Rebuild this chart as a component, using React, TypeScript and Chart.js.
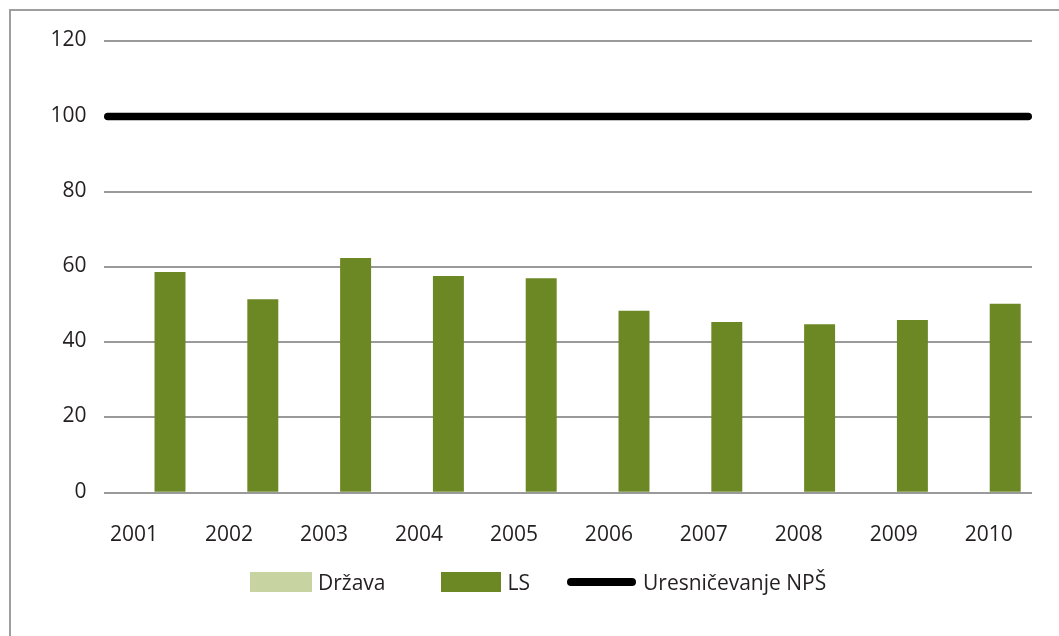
import React, { useEffect, useRef } from "react";
import { Chart, registerables } from "chart.js";

Chart.register(...registerables);

const years = ["2001", "2002", "2003", "2004", "2005", "2006", "2007", "2008", "2009", "2010"];
const drzavaValues = [0, 0, 0, 0, 0, 0, 0, 0, 0, 0];
const lsValues = [58.7, 51.4, 62.4, 57.6, 57.0, 48.4, 45.4, 44.8, 45.9, 50.2];
const npsValues = [100, 100, 100, 100, 100, 100, 100, 100, 100, 100];
const seriesNames = ["Država", "LS", "Uresničevanje NPŠ"];
const yTicks = [0, 20, 40, 60, 80, 100, 120];

const FONT = "'Open Sans', sans-serif";
const TEXT = "#231F20";
const C_DRZAVA = "#C8D3A2";
const C_LS = "#6B8825";
const C_LINE = "#000000";

export default function App() {
  const ref = useRef<HTMLCanvasElement | null>(null);

  useEffect(() => {
    if (!ref.current) return;
    const chart = new Chart(ref.current, {
      type: "bar",
      data: {
        labels: years,
        datasets: [
          {
            type: "line",
            label: seriesNames[2],
            data: npsValues.map((v, i) => ({ x: i, y: v })),
            xAxisID: "x2",
            borderColor: C_LINE,
            borderWidth: 7.5,
            borderCapStyle: "round",
            pointRadius: 0,
            order: 0,
          } as any,
          {
            label: seriesNames[0],
            data: drzavaValues,
            backgroundColor: C_DRZAVA,
            borderWidth: 0,
            categoryPercentage: 1.69,
            barPercentage: 0.79,
            order: 1,
          },
          {
            label: seriesNames[1],
            data: lsValues,
            backgroundColor: C_LS,
            borderWidth: 0,
            categoryPercentage: 1.69,
            barPercentage: 0.79,
            order: 1,
          },
        ],
      },
      options: {
        responsive: false,
        animation: false,
        layout: { padding: { left: 0, right: 27, top: 41.3, bottom: 83.3 } },
        plugins: { legend: { display: false }, tooltip: { enabled: false } },
        scales: {
          x: {
            type: "category",
            offset: true,
            display: false,
          },
          x2: {
            type: "linear",
            offset: false,
            min: -0.037,
            max: years.length - 1 + 0.037,
            display: false,
          },
          xl: {
            type: "linear",
            position: "bottom",
            offset: false,
            min: -0.316,
            max: 9.455,
            afterBuildTicks: (s: any) => {
              s.ticks = years.map((_, i) => ({ value: i }));
            },
            grid: { display: false },
            border: { display: false },
            ticks: {
              color: TEXT,
              font: { family: FONT, size: 21 },
              padding: 22,
              maxRotation: 0,
              autoSkip: false,
              callback: (v: any) => years[Math.round(Number(v))] ?? "",
            },
            afterFit: (s: any) => {
              s.height = 60;
            },
          },
          y: {
            min: yTicks[0],
            max: yTicks[yTicks.length - 1],
            afterBuildTicks: (s: any) => {
              s.ticks = yTicks.map((v) => ({ value: v }));
            },
            grid: { color: "#9A9A9A", lineWidth: 2, drawTicks: false },
            border: { display: false },
            ticks: {
              color: TEXT,
              font: { family: FONT, size: 21 },
              padding: 17.5,
              labelOffset: -1,
            },
            afterFit: (s: any) => {
              s.width = 104;
            },
          },
        },
      },
    });
    return () => chart.destroy();
  }, []);

  const textStyle: React.CSSProperties = {
    fontFamily: FONT,
    fontSize: 21,
    color: TEXT,
    whiteSpace: "nowrap",
  };

  return (
    <div style={{ position: "fixed", left: 0, top: 0, width: 1059, height: 636, background: "#fff", overflow: "hidden" }}>
      <div
        style={{
          position: "absolute",
          left: 9,
          top: 9,
          width: 1200,
          height: 800,
          borderLeft: "2px solid #9E9E9E",
          borderTop: "2px solid #9E9E9E",
        }}
      />
      <canvas ref={ref} width={1059} height={636} style={{ position: "absolute", left: 0, top: 0, display: "block" }} />
      <div
        style={{
          position: "absolute",
          left: 250,
          top: 572,
          height: 20,
          display: "flex",
          alignItems: "center",
        }}
      >
        <div style={{ width: 62, height: 20, background: C_DRZAVA }} />
        <span style={{ ...textStyle, marginLeft: 6 }}>{seriesNames[0]}</span>
        <div style={{ width: 60, height: 20, background: C_LS, marginLeft: 55 }} />
        <span style={{ ...textStyle, marginLeft: 7 }}>{seriesNames[1]}</span>
        <div style={{ width: 69, height: 8, borderRadius: 4, background: C_LINE, marginLeft: 37 }} />
        <span style={{ ...textStyle, marginLeft: 7 }}>{seriesNames[2]}</span>
      </div>
    </div>
  );
}
